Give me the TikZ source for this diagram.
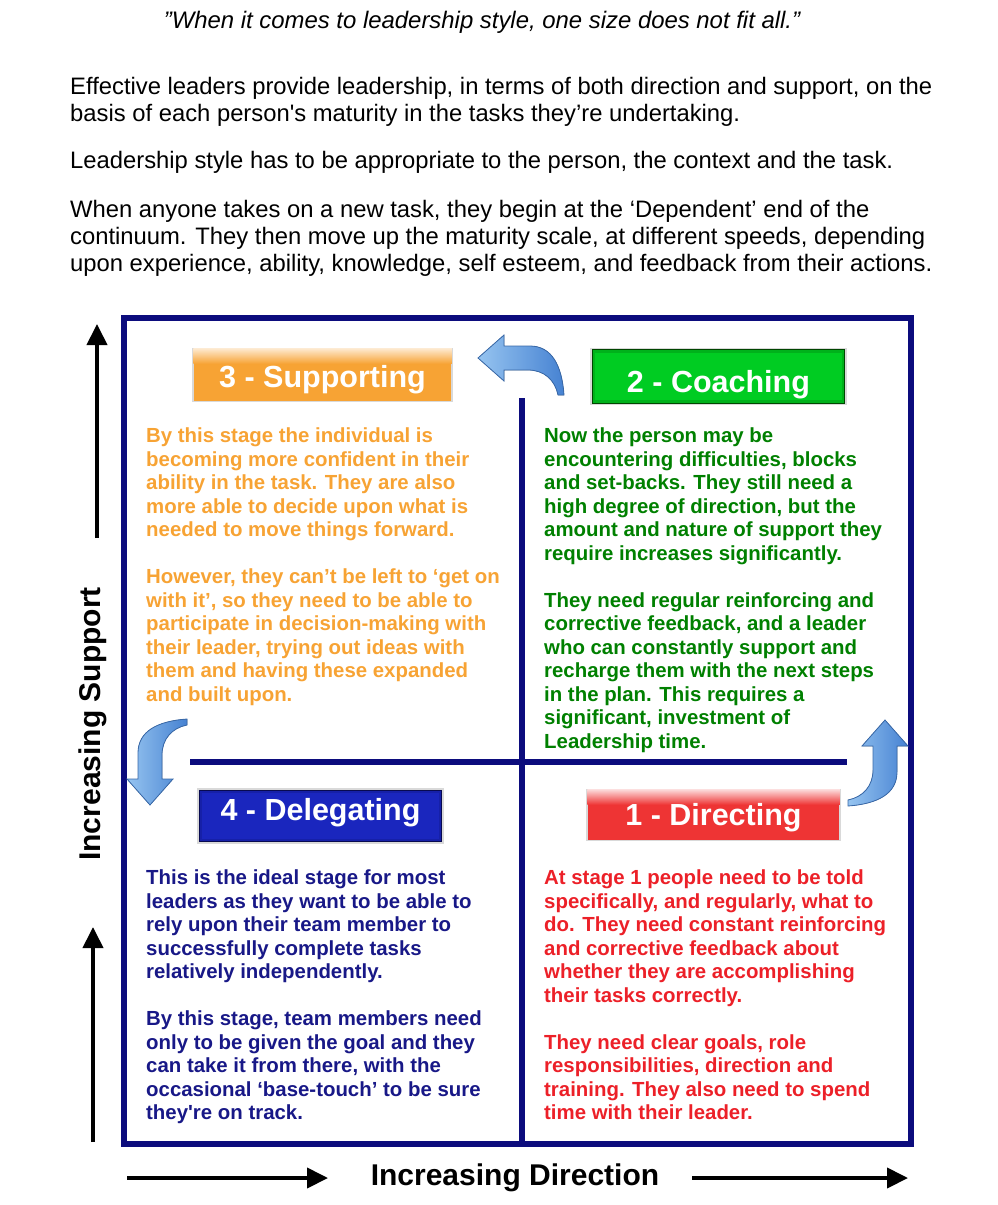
\documentclass[tikz,border=0pt]{standalone}
\usepackage{fontspec}
\setmainfont{Liberation Sans}
\usetikzlibrary{calc,arrows.meta,positioning}
\definecolor{framenavy}{RGB}{12,12,125}
\definecolor{supportorange}{RGB}{247,163,52}
\definecolor{coachgreen}{RGB}{0,128,0}
\definecolor{coachbright}{RGB}{0,204,34}
\definecolor{coachdark}{RGB}{0,70,0}
\definecolor{delegatenavy}{RGB}{24,24,135}
\definecolor{delegatebright}{RGB}{26,38,190}
\definecolor{delegatedark}{RGB}{8,10,80}
\definecolor{directred}{RGB}{236,32,40}
\definecolor{directbox}{RGB}{238,52,52}
\definecolor{curllight}{RGB}{150,196,240}
\definecolor{curldark}{RGB}{70,130,210}
\tikzset{
    frame line/.style={line width=5.5pt, framenavy},
    axis arrow/.style={line width=4pt, -{Triangle[length=21pt,width=20pt]}},
    axis label/.style={inner sep=0, font=\fontsize{30}{36}\selectfont\bfseries},
    stage box/.style={
        draw=gray!30,
        line width=1.5pt,
        inner sep=0
    },
    stage title/.style={
        anchor=base,
        inner sep=0,
        text=white,
        font=\fontsize{30.5}{36}\selectfont\bfseries
    },
    stage text/.style={
        anchor=north west,
        inner sep=0,
        align=left,
        font=\fontsize{20.4}{23.5}\selectfont\bfseries
    },
    body text/.style={
        anchor=north west,
        inner sep=0,
        align=left,
        font=\fontsize{23.8}{27}\selectfont
    },
    curl arrow/.style={draw=curldark!80!black, line width=.8pt,
        left color=curllight, right color=curldark}
}
\newcommand{\CurlArrow}[2]{%
\begin{scope}[shift={#1},rotate=#2]
    \filldraw[curl arrow]
        (0,0)--(23,26)--(12,26)--(12,52)
        ..controls(12,74)and(-8,84)..(-37,86)
        --(-37,80)
        ..controls(-22,77)and(-12,66)..(-12,50)
        --(-12,26)--(-23,26)--cycle;
\end{scope}}

\begin{document}
\begin{tikzpicture}[x=1pt,y=-1pt]
    \useasboundingbox(0,0)rectangle(997,1205);
    % heading
    \node[inner sep=0,font=\fontsize{23.9}{27}\selectfont\itshape](quote)
        at(482,22){''When it comes to leadership style, one size does not fit all.''};
    \node[body text](intro)at(70,77){Effective leaders provide leadership, in terms of both direction and support, on the\\
        basis of each person\textquotesingle s maturity in the tasks they’re undertaking.};
    \node[body text](context)at(70,151){Leadership style has to be appropriate to the person, the context and the task.};
    \node[body text](continuum)at(70,200){When anyone takes on a new task, they begin at the ‘Dependent’ end of the\\
        continuum. They then move up the maturity scale, at different speeds, depending\\
        upon experience, ability, knowledge, self esteem, and feedback from their actions.};
    % frame
    \coordinate(TL)at(124,318);
    \coordinate(BR)at(911,1144);
    \coordinate(VT)at(522,398);
    \coordinate(VB)at(522,1144);
    \coordinate(HL)at(190,762);
    \coordinate(HR)at(847,762);
    \draw[frame line](TL)rectangle(BR);
    \draw[frame line](VT)--(VB);
    \draw[frame line](HL)--(HR);
    % stage titles
    \node[stage box,fill=supportorange,minimum width=259pt,minimum height=53pt]
        (supporting)at(322.5,375){};
    \shade[top color=supportorange!25!white,bottom color=supportorange]
        ($(supporting.north west)+(1,1)$)rectangle($(supporting.north east)+(-1,16)$);
    \node[stage title]at($(supporting.center)+(0,12)$){3 - Supporting};
    \node[stage box,fill=coachdark,minimum width=255pt,minimum height=56pt]
        (coaching)at(718.5,376.5){};
    \fill[coachbright!80!coachdark]($(coaching.north west)+(2.5,2.5)$)rectangle($(coaching.south east)+(-2.5,-2.5)$);
    \fill[coachbright]($(coaching.north west)+(5,5)$)rectangle($(coaching.south east)+(-5,-5)$);
    \node[stage title]at($(coaching.center)+(0,15.5)$){2 - Coaching};
    \node[stage box,fill=delegatedark,minimum width=245pt,minimum height=54pt]
        (delegating)at(320.5,816){};
    \fill[delegatebright!80!delegatedark]($(delegating.north west)+(2.5,2.5)$)rectangle($(delegating.south east)+(-2.5,-2.5)$);
    \fill[delegatebright]($(delegating.north west)+(5,5)$)rectangle($(delegating.south east)+(-5,-5)$);
    \node[stage title]at($(delegating.center)+(0,4)$){4 - Delegating};
    \node[stage box,fill=directbox,minimum width=253pt,minimum height=51pt]
        (directing)at(713.5,815){};
    \shade[top color=directbox!20!white,bottom color=directbox]
        ($(directing.north west)+(1,1)$)rectangle($(directing.north east)+(-1,16)$);
    \node[stage title]at($(directing.center)+(0,10)$){1 - Directing};
    % curled arrows
    \CurlArrow{(478,358)}{90}
    \CurlArrow{(150,805)}{180}
    \CurlArrow{(885,720)}{0}
    % stage texts
    \node[stage text,text=supportorange](supporttext)at(146,428){By this stage the individual is\\
        becoming more confident in their\\
        ability in the task. They are also\\
        more able to decide upon what is\\
        needed to move things forward.\\[23.5pt]
        However, they can’t be left to ‘get on\\
        with it’, so they need to be able to\\
        participate in decision-making with\\
        their leader, trying out ideas with\\
        them and having these expanded\\
        and built upon.};
    \node[stage text,text=coachgreen](coachtext)at(544,428){Now the person may be\\
        encountering difficulties, blocks\\
        and set-backs. They still need a\\
        high degree of direction, but the\\
        amount and nature of support they\\
        require increases significantly.\\[23.5pt]
        They need regular reinforcing and\\
        corrective feedback, and a leader\\
        who can constantly support and\\
        recharge them with the next steps\\
        in the plan. This requires a\\
        significant, investment of\\
        Leadership time.};
    \node[stage text,text=delegatenavy](delegatetext)at(146,870){This is the ideal stage for most\\
        leaders as they want to be able to\\
        rely upon their team member to\\
        successfully complete tasks\\
        relatively independently.\\[23.5pt]
        By this stage, team members need\\
        only to be given the goal and they\\
        can take it from there, with the\\
        occasional ‘base-touch’ to be sure\\
        they\textquotesingle re on track.};
    \node[stage text,text=directred](directtext)at(544,870){At stage 1 people need to be told\\
        specifically, and regularly, what to\\
        do. They need constant reinforcing\\
        and corrective feedback about\\
        whether they are accomplishing\\
        their tasks correctly.\\[23.5pt]
        They need clear goals, role\\
        responsibilities, direction and\\
        training. They also need to spend\\
        time with their leader.};
    % axes
    \coordinate(S1a)at(97,538);
    \coordinate(S1b)at(97,324);
    \coordinate(S2a)at(93,1142);
    \coordinate(S2b)at(93,927);
    \coordinate(D1a)at(127,1178);
    \coordinate(D1b)at(328,1178);
    \coordinate(D2a)at(692,1178);
    \coordinate(D2b)at(908,1178);
    \draw[axis arrow](S1a)--(S1b);
    \draw[axis arrow](S2a)--(S2b);
    \draw[axis arrow](D1a)--(D1b);
    \draw[axis arrow](D2a)--(D2b);
    \node[axis label,rotate=90](support)at(93,724){Increasing Support};
    \node[axis label](direction)at(515,1178){Increasing Direction};
\end{tikzpicture}
\end{document}
